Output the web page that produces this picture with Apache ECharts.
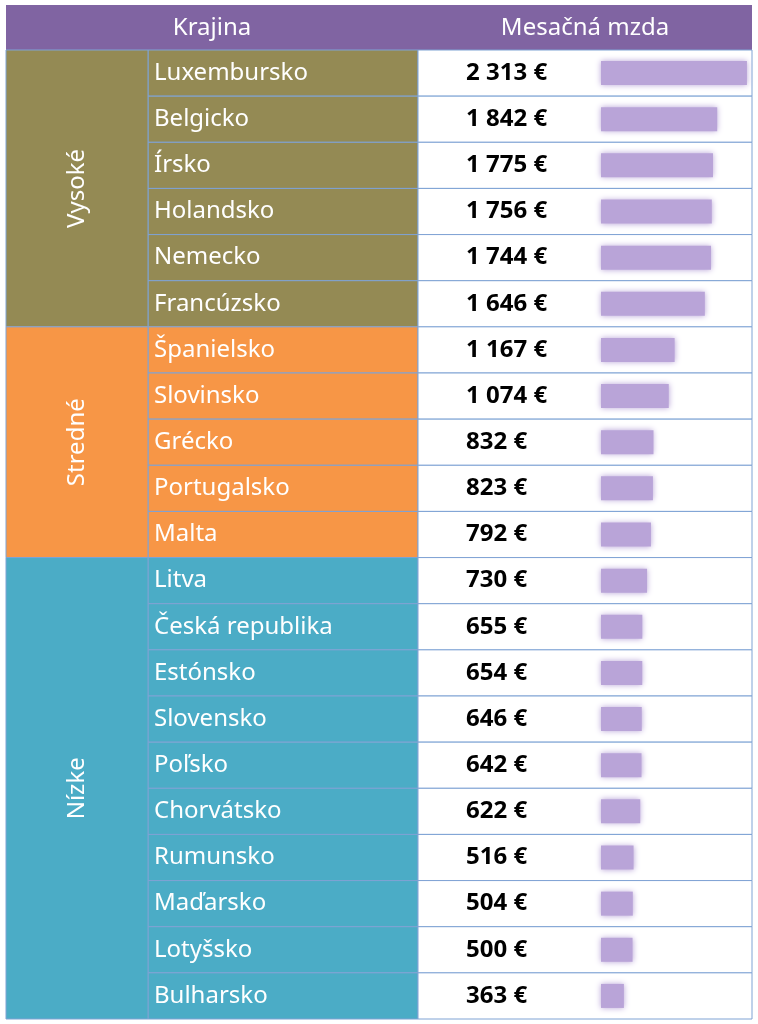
<!DOCTYPE html>
<html>
<head>
<meta charset="utf-8">
<script src="https://cdn.jsdelivr.net/npm/echarts@6/dist/echarts.min.js"></script>
<style>html,body{margin:0;padding:0;background:#fff}#c{width:758px;height:1024px}</style>
</head>
<body>
<div id="c"></div>
<script>
// data
var countries = ['Luxembursko','Belgicko','Írsko','Holandsko','Nemecko','Francúzsko',
  'Španielsko','Slovinsko','Grécko','Portugalsko','Malta',
  'Litva','Česká republika','Estónsko','Slovensko','Poľsko','Chorvátsko','Rumunsko','Maďarsko','Lotyšsko','Bulharsko'];
var wages = [2313,1842,1775,1756,1744,1646,1167,1074,832,823,792,730,655,654,646,642,622,516,504,500,363];
var groupNames = ['Vysoké','Stredné','Nízke'];
var groupStart = [0,6,11];
var groupEnd = [5,10,20];
var groupColors = ['#948a54','#f79646','#4bacc6'];

var FONT = '"Noto Sans", sans-serif';
var BORDER = '#7fa3d4';

function groupOf(i) {
  for (var g = 0; g < groupStart.length; g++) if (i >= groupStart[g] && i <= groupEnd[g]) return g;
  return 0;
}
function fmt(v) {
  var s = String(v);
  if (s.length > 3) s = s.slice(0, s.length - 3) + ' ' + s.slice(-3);
  return s + ' €';
}

var chart = echarts.init(document.getElementById('c'));

var option = {
  animation: false,
  grid: { left: 601, right: 10, top: 50, bottom: 5 },
  xAxis: { type: 'value', min: 0, max: 2330, show: false },
  yAxis: { type: 'category', data: countries, inverse: true, show: false },
  graphic: [
    { type: 'rect', shape: { x: 6, y: 5, width: 746, height: 45 }, style: { fill: '#8064a2' } },
    { type: 'text', x: 212, y: 28, style: { text: 'Krajina', fill: '#fff', font: '24px ' + FONT, align: 'center', verticalAlign: 'middle' } },
    { type: 'text', x: 585, y: 28, style: { text: 'Mesačná mzda', fill: '#fff', font: '24px ' + FONT, align: 'center', verticalAlign: 'middle' } }
  ],
  series: [
    {
      // country + value cells
      type: 'custom', z: 1, clip: false,
      data: countries.map(function (c, i) { return [0, i]; }),
      encode: { x: 0, y: 1 },
      renderItem: function (params, api) {
        var i = api.value(1);
        var y = api.coord([0, i])[1];
        var h = api.size([0, 1])[1];
        var top = y - h / 2;
        return {
          type: 'group',
          children: [
            { type: 'rect', shape: { x: 148, y: top, width: 270, height: h }, style: { fill: groupColors[groupOf(i)], stroke: BORDER, lineWidth: 1 } },
            { type: 'rect', shape: { x: 418, y: top, width: 334, height: h }, style: { fill: '#fff', stroke: BORDER, lineWidth: 1 } },
            { type: 'text', x: 154, y: y, style: { text: countries[i], fill: '#fff', font: '24px ' + FONT, verticalAlign: 'middle' } },
            { type: 'text', x: 466, y: y, style: { text: fmt(wages[i]), fill: '#000', font: 'bold 24px ' + FONT, verticalAlign: 'middle' } }
          ]
        };
      }
    },
    {
      // merged group cells
      type: 'custom', z: 2, clip: false,
      data: groupNames.map(function (g, k) { return [0, groupStart[k], groupEnd[k]]; }),
      encode: { x: 0, y: 1 },
      renderItem: function (params, api) {
        var k = params.dataIndex;
        var h = api.size([0, 1])[1];
        var y0 = api.coord([0, api.value(1)])[1] - h / 2;
        var y1 = api.coord([0, api.value(2)])[1] + h / 2;
        return {
          type: 'group',
          children: [
            { type: 'rect', shape: { x: 6, y: y0, width: 142, height: y1 - y0 }, style: { fill: groupColors[k], stroke: BORDER, lineWidth: 1 } },
            { type: 'text', x: 77, y: (y0 + y1) / 2, rotation: Math.PI / 2,
              style: { text: groupNames[k], fill: '#fff', font: '24px ' + FONT, align: 'center', verticalAlign: 'middle' } }
          ]
        };
      }
    },
    {
      type: 'bar', z: 3, data: wages, barWidth: 24,
      itemStyle: { color: '#b9a4d8', shadowBlur: 6, shadowColor: '#b9a4d8' }
    }
  ]
};
chart.setOption(option);
</script>
</body>
</html>
